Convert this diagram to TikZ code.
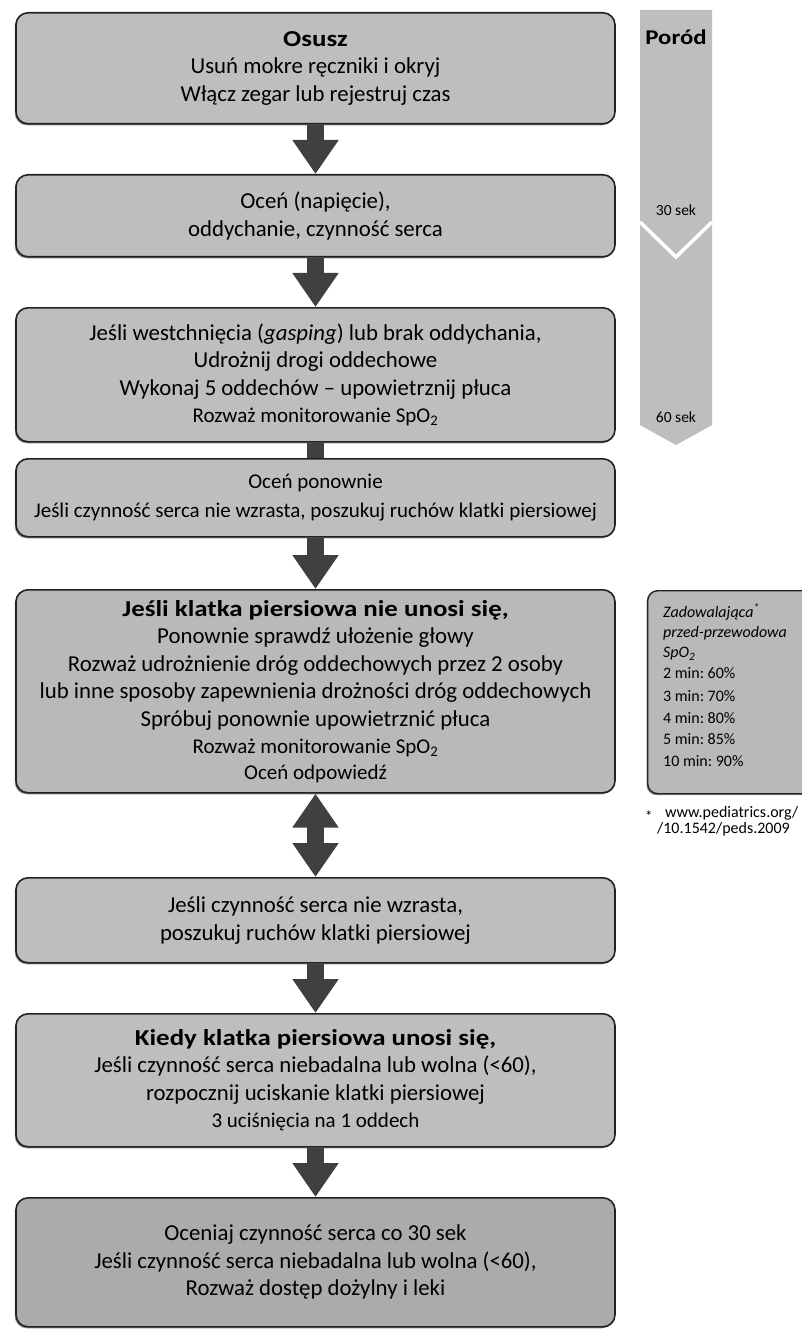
\documentclass[tikz,border=0pt]{standalone}
\usepackage{fontspec}
\setmainfont{Carlito}[BoldFeatures={FakeStretch=1.18}]
\usetikzlibrary{arrows.meta,shadows}
\definecolor{boxgray}{HTML}{BEBEBE}
\definecolor{boxgrayb}{HTML}{B9B9B9}
\definecolor{boxdark}{HTML}{ABABAB}
\definecolor{arrowgray}{HTML}{404040}
\definecolor{edgegray}{HTML}{222222}
\newcommand\mainsz{\fontsize{22.8}{27.5}\selectfont}
\newcommand\smallsz{\fontsize{21}{25}\selectfont}
\tikzset{
  boxshadow/.style={drop shadow={shadow xshift=-1.2pt, shadow yshift=-1.5pt, fill=black, opacity=0.45}},
  box/.style={draw=edgegray, line width=1.6pt, fill=boxgray, rounded corners=12pt, boxshadow,
    minimum width=599pt, anchor=north, align=center, inner sep=0pt, font=\mainsz},
  blockarrow/.style={draw=arrowgray, line width=17pt, -{Triangle[width=44pt,length=34pt]}},
  dblarrow/.style={draw=arrowgray, line width=17pt, {Triangle[width=44pt,length=34pt]}-{Triangle[width=44pt,length=34pt]}},
  barlink/.style={draw=arrowgray, line width=17pt},
  striptext/.style={font=\fontsize{15.5}{18}\selectfont},
}
\begin{document}
\frenchspacing
\begin{tikzpicture}[x=1pt,y=-1pt]
\useasboundingbox (0,0) rectangle (802,1329);
% main boxes
\node[box, minimum height=111pt] (b1) at (315.5,12) {{\bfseries Osusz}\\ Usuń mokre ręczniki i okryj\\ Włącz zegar lub rejestruj czas};
\node[box, minimum height=82pt] (b2) at (315.5,174) {Oceń (napięcie),\\ oddychanie, czynność serca};
\node[box, minimum height=134pt] (b3) at (315.5,307) {Jeśli westchnięcia (\textit{gasping}) lub brak oddychania,\\ Udrożnij drogi oddechowe\\ Wykonaj 5 oddechów – upowietrznij płuca\\ {\smallsz Rozważ monitorowanie SpO\textsubscript{2}}};
\node[box, minimum height=78pt] (b4) at (315.5,458) {{\smallsz Oceń ponownie}\\[1pt] {\smallsz Jeśli czynność serca nie wzrasta, poszukuj ruchów klatki piersiowej}};
\node[box, minimum height=203pt, fill=boxgrayb] (b5) at (315.5,589) {{\bfseries Jeśli klatka piersiowa nie unosi się,}\\ Ponownie sprawdź ułożenie głowy\\ Rozważ udrożnienie dróg oddechowych przez 2 osoby\\ lub inne sposoby zapewnienia drożności dróg oddechowych\\ Spróbuj ponownie upowietrznić płuca\\ {\smallsz Rozważ monitorowanie SpO\textsubscript{2}}\\[-2pt] {\smallsz Oceń odpowiedź}};
\node[box, minimum height=85pt] (b6) at (315.5,877) {Jeśli czynność serca nie wzrasta,\\ poszukuj ruchów klatki piersiowej};
\node[box, minimum height=133pt] (b7) at (315.5,1013) {{\bfseries Kiedy klatka piersiowa unosi się,}\\ Jeśli czynność serca niebadalna lub wolna (<60),\\ rozpocznij uciskanie klatki piersiowej\\ {\smallsz 3 uciśnięcia na 1 oddech}};
\node[box, minimum height=129pt, fill=boxdark] (b8) at (315.5,1197) {Oceniaj czynność serca co 30 sek\\ Jeśli czynność serca niebadalna lub wolna (<60),\\ Rozważ dostęp dożylny i leki};
% connectors
\draw[blockarrow] (b1.south) -- (b2.north);
\draw[blockarrow] (b2.south) -- (b3.north);
\draw[barlink] (b3.south) -- (b4.north);
\draw[blockarrow] (b4.south) -- (b5.north);
\draw[dblarrow] (b5.south) -- (b6.north);
\draw[blockarrow] (b6.south) -- (b7.north);
\draw[blockarrow] (b7.south) -- (b8.north);
% time strip
\fill[boxgray] (640,10) -- (712,10) -- (712,425) -- (676,445) -- (640,425) -- cycle;
\draw[white, line width=3.5pt] (640,222) -- (676,257) -- (712,222);
\node[font=\bfseries\fontsize{21}{24}\selectfont] (porod) at (676,37) {Poród};
\node[striptext] (t30) at (676,210) {30 sek};
\node[striptext] (t60) at (676,417) {60 sek};
% SpO2 box
\node[draw=edgegray, line width=1.4pt, fill=boxgrayb, rounded corners=10pt, boxshadow,
  minimum height=203pt, minimum width=180pt, anchor=north west, inner sep=0pt] (spo) at (647,590) {};
\node[anchor=north west, align=left, inner sep=0pt, font=\fontsize{16}{21.5}\selectfont] (spotext) at (663,603)
  {\textit{Zadowalająca\textsuperscript{*}}\\[-1.5pt] \textit{przed-przewodowa}\\[-1.5pt] \textit{SpO\textsubscript{2}}\\ 2 min: 60\%\\[1.5pt] 3 min: 70\%\\ 4 min: 80\%\\ 5 min: 85\%\\ 10 min: 90\%};
% footnote
\node[font=\fontsize{15}{16}\selectfont, anchor=west, inner sep=0pt] (star) at (645,816) {*};
\node[font=\fontsize{16}{16}\selectfont, anchor=north west, align=left, inner sep=0pt] (fn) at (665,806) {www.pediatrics.org/\\ \hspace*{-8pt}/10.1542/peds.2009};
\end{tikzpicture}
\end{document}
